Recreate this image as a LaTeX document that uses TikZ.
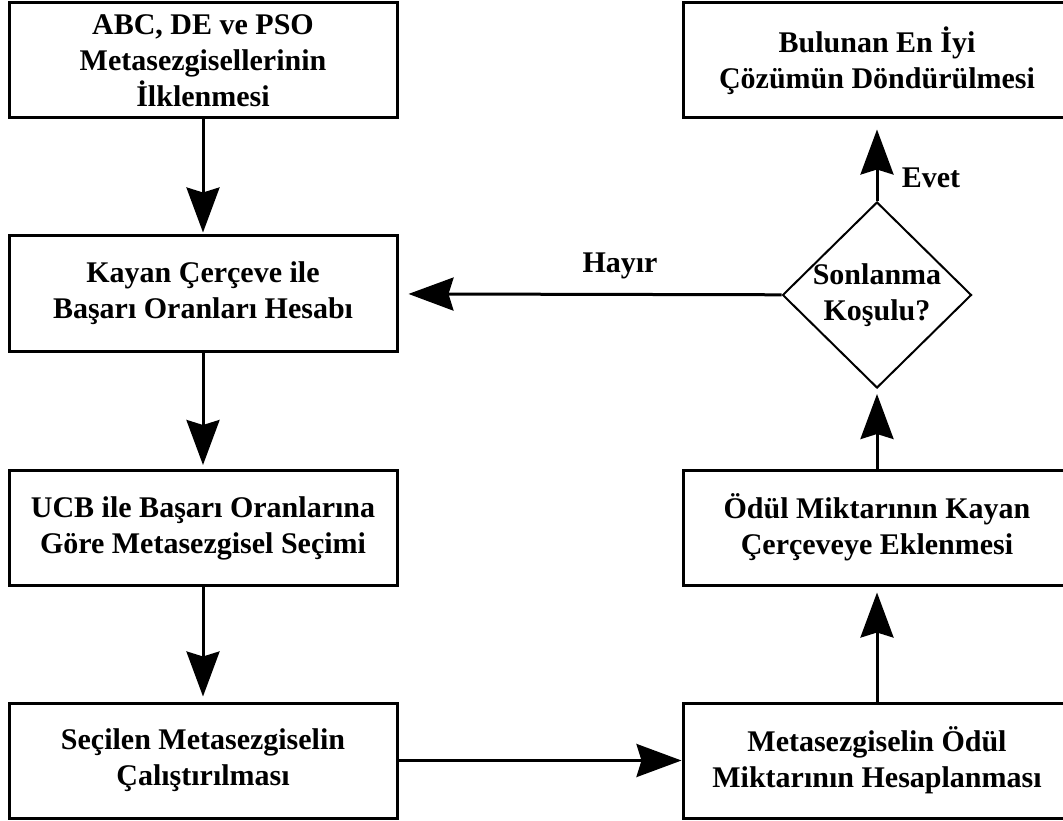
\documentclass[tikz,border=0pt]{standalone}
\usepackage{fontspec}
\setmainfont{Liberation Serif}
\usetikzlibrary{arrows.meta,shapes.geometric}
\begin{document}
\begin{tikzpicture}[x=1pt,y=-1pt,
  txt/.style={font=\fontsize{30}{36}\selectfont\bfseries},
  box/.style={txt, draw, line width=3pt, minimum width=388pt,
    minimum height=115pt, align=center, inner sep=0pt},
  decision/.style={txt, draw, diamond, line width=2pt, align=center,
    inner sep=-4pt, minimum width=189pt, minimum height=186pt},
  flow/.style={line width=3pt, -{Stealth[length=45pt,width=33pt,inset=5pt]}},
  lbl/.style={txt, inner sep=0pt}]
\useasboundingbox (0,0) rectangle (1063,821);

% left column
\node[box] (init) at (203,60.5) {ABC, DE ve PSO\\Metasezgisellerinin\\İlklenmesi};
\node[box] (rate) at (203,293.5) {Kayan Çerçeve ile\\Başarı Oranları Hesabı};
\node[box] (ucb)  at (203,528) {UCB ile Başarı Oranlarına\\Göre Metasezgisel Seçimi};
\node[box] (run)  at (203,760.5) {Seçilen Metasezgiselin\\Çalıştırılması};

% right column
\node[box] (best)   at (877,60.5) {Bulunan En İyi\\Çözümün Döndürülmesi};
\node[decision] (stop) at (877,295) {Sonlanma\\Koşulu?};
\node[box] (window) at (877,527.5) {Ödül Miktarının Kayan\\Çerçeveye Eklenmesi};
\node[box] (reward) at (877,760.5) {Metasezgiselin Ödül\\Miktarının Hesaplanması};

% connectors
\draw[flow, shorten >=2pt] (init) -- (rate);
\draw[flow, shorten >=4pt] (rate) -- (ucb);
\draw[flow, shorten >=5pt] (ucb) -- (run);
\draw[flow] (run) -- (reward);
\draw[flow, shorten >=6pt] (reward) -- (window);
\draw[flow, shorten >=5pt] (window) -- (stop);
\draw[flow, shorten >=10pt] (stop) -- (best);
\draw[flow, shorten >=10pt] (stop) -- (rate);

% branch labels
\node[lbl] (no)  at (620,266) {Hayır};
\node[lbl] (yes) at (931,178) {Evet};
\end{tikzpicture}
\end{document}
